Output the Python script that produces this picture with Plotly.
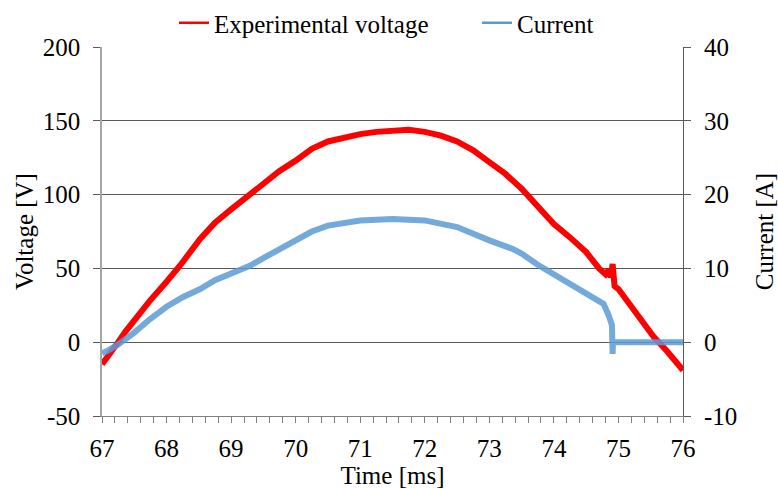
import plotly.graph_objects as go

# Voltage trace (time in ms, voltage in V)
v_time = [67.0, 67.12, 67.25, 67.36, 67.5, 67.74, 68.0, 68.21, 68.52, 68.75, 69.0, 69.29, 69.5,
          69.75, 70.0, 70.25, 70.5, 70.75, 71.0, 71.25, 71.5, 71.75, 72.0, 72.25, 72.5, 72.75,
          73.0, 73.25, 73.5, 73.75, 74.0, 74.25, 74.5, 74.7, 74.8, 74.85, 74.88, 74.91, 74.94,
          75.0, 75.18, 75.35, 75.54, 75.75, 76.0]
voltage = [-15, -7, 0, 7, 15, 28, 41, 52, 70, 81, 90, 100, 108,
           116, 123, 131, 136, 139, 141, 142.5, 143.5, 144, 142.5, 140, 136, 130,
           122, 114, 104, 92, 80, 71, 61, 50, 46, 49, 44, 53, 38,
           36, 25, 15, 4, -6, -19]

# Current trace (time in ms, current in A)
i_time = [67.0, 67.08, 67.25, 67.36, 67.5, 67.74, 68.0, 68.25, 68.52, 68.75, 69.0, 69.29, 69.5,
          69.75, 70.0, 70.25, 70.5, 70.75, 71.0, 71.5, 72.0, 72.5, 72.75, 73.0, 73.37, 73.5,
          73.75, 74.0, 74.25, 74.5, 74.77, 74.85, 74.9, 74.905, 74.91, 74.915, 75.0, 75.5, 76.0]
current = [-1.5, -1.2, -0.3, 0.4, 1.3, 3.1, 4.8, 6.1, 7.2, 8.4, 9.3, 10.35, 11.4,
           12.6, 14.0, 15.0, 15.8, 16.2, 16.5, 16.7, 16.5, 15.6, 14.6, 13.8, 12.6, 12.0,
           10.5, 9.2, 7.9, 6.6, 5.2, 3.6, 2.3, 0.0, -1.6, 0.0, 0.0, 0.0, 0.0]

x_ticks = [67, 68, 69, 70, 71, 72, 73, 74, 75, 76]
v_ticks = [-50, 0, 50, 100, 150, 200]
i_ticks = [-10, 0, 10, 20, 30, 40]

FONT = "Liberation Serif, Times New Roman, serif"
FS = 25
RED = "#FF0000"
BLUE = "#5B9BD5"

fig = go.Figure()
fig.add_trace(go.Scatter(x=v_time, y=voltage, mode="lines", name="Experimental voltage",
                         showlegend=False, line=dict(color=RED, width=6)))
fig.add_trace(go.Scatter(x=i_time, y=current, mode="lines", name="Current", yaxis="y2",
                         showlegend=False, opacity=0.85, line=dict(color=BLUE, width=6)))
# legend entries (thin line swatches)
fig.add_trace(go.Scatter(x=[None], y=[None], mode="lines", name="Experimental voltage",
                         legend="legend", line=dict(color=RED, width=2.5)))
fig.add_trace(go.Scatter(x=[None], y=[None], mode="lines", name="Current", yaxis="y2",
                         legend="legend2", line=dict(color=BLUE, width=2.5)))

legend_common = dict(orientation="h", xref="container", yref="container", y=1.0,
                     yanchor="top", xanchor="left", font=dict(family=FONT, size=FS),
                     itemwidth=30, bgcolor="rgba(0,0,0,0)")

fig.update_layout(
    width=778, height=489,
    margin=dict(l=102, r=95, t=47, b=73, autoexpand=False),
    paper_bgcolor="white", plot_bgcolor="white",
    font=dict(family=FONT, size=FS, color="black"),
    showlegend=True,
    legend=dict(x=174 / 778, **legend_common),
    legend2=dict(x=477 / 778, **legend_common),
    xaxis=dict(range=[67, 76], tickvals=x_ticks, ticks="outside", ticklen=6,
               tickcolor="#808080", showline=True, linecolor="#808080", linewidth=1,
               showgrid=False, zeroline=False, ticklabelstandoff=4,
               minor=dict(dtick=0.2, ticks="outside", ticklen=6, tickcolor="#808080"),
               title=dict(text="Time [ms]", standoff=4, font=dict(size=FS)),
               tickfont=dict(size=FS)),
    yaxis=dict(range=[-50, 200], tickvals=v_ticks, ticktext=[str(v) for v in v_ticks],
               ticks="outside", ticklen=7, ticklabelstandoff=8,
               tickcolor="#595959", showline=True, linecolor="#A6A6A6", linewidth=1.5,
               showgrid=True, gridcolor="#595959", gridwidth=1,
               zeroline=True, zerolinecolor="#595959", zerolinewidth=1,
               title=dict(text="Voltage [V]", standoff=2, font=dict(size=FS)),
               tickfont=dict(size=FS)),
    yaxis2=dict(range=[-10, 40], tickvals=i_ticks, ticktext=[str(v) for v in i_ticks],
                overlaying="y", side="right", ticklabelstandoff=8,
                ticks="outside", ticklen=7, tickcolor="#595959",
                showline=True, linecolor="#595959", linewidth=1,
                showgrid=False, zeroline=False,
                title=dict(text="Current [A]", standoff=20, font=dict(size=FS)),
                tickfont=dict(size=FS)),
)

fig.write_html("out.html")
